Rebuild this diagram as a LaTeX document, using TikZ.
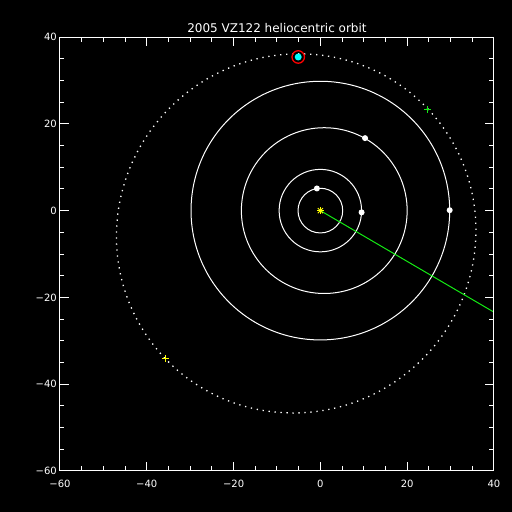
\documentclass[tikz,border=0pt]{standalone}
\usepackage{fontspec}
\setmainfont{DejaVu Sans}
\usepackage{tikz}
\usetikzlibrary{positioning}
\definecolor{OrbitCyan}{RGB}{0,255,255}
\definecolor{OrbitRed}{RGB}{255,0,0}
\definecolor{OrbitYellow}{RGB}{255,255,0}
\definecolor{OrbitGreen}{RGB}{20,235,20}

\begin{document}
\begin{tikzpicture}[
    x=4.34pt, y=4.34pt,
    every node/.style={font=\fontsize{10}{11}\selectfont, text=white, inner sep=0pt},
    frame/.style={draw=white, line width=1pt},
    orbit/.style={draw=white, line width=1pt},
    dotorbit/.style={draw=white, line width=1.3pt, dash pattern=on 1.3pt off 4.7pt},
    planet/.style={circle, fill=white, minimum size=6pt},
    target/.style={circle, fill=OrbitCyan, minimum size=7pt},
    ring/.style={circle, draw=OrbitRed, line width=1.3pt, minimum size=12.5pt},
    ray/.style={draw=OrbitGreen, line width=1pt},
    marker/.style={line width=1pt}
]

% background and margins
\fill[black] (-73.82,-69.45) rectangle (44.15,48.53);
\useasboundingbox (-73.82,-69.45) rectangle (44.15,48.53);

\coordinate (sun) at (0,0);
\coordinate (rim) at (40,-23.4);
\coordinate (peri) at (24.8,23.4);
\coordinate (aphe) at (-35.7,-34.1);

% planet orbits
\draw[orbit] (sun) circle [radius=5.15];
\draw[orbit] (sun) circle [radius=9.5];
\draw[orbit] (0.9,0) circle [radius=19.1];
\draw[orbit] (sun) circle [radius=29.8];

% orbit of the object
\draw[dotorbit, rotate around={43.3:(-5.57,-5.25)}] (-5.57,-5.25) ellipse [x radius=41.75, y radius=41.05];

\draw[ray] (sun) -- (rim);

% sun
\foreach \a in {0,45,90,135}
    \draw[OrbitYellow, marker] (sun) ++(\a:3.6pt) -- ++(\a+180:7.2pt);

% perihelion and aphelion
\draw[OrbitGreen, marker] (peri) ++(-3.5pt,0) -- ++(7pt,0) (peri) ++(0,-3.5pt) -- ++(0,7pt);
\draw[OrbitYellow, marker] (aphe) ++(-3.5pt,0) -- ++(7pt,0) (aphe) ++(0,-3.5pt) -- ++(0,7pt);

\node[planet] (jupiter) at (-0.8,5.1) {};
\node[planet] (saturn) at (9.5,-0.4) {};
\node[planet] (uranus) at (10.3,16.7) {};
\node[planet] (neptune) at (29.8,0.1) {};

\node[target] (vz) at (-5.1,35.4) {};
\node[ring] (vzring) at (vz) {};

% axes
\draw[frame] (-60,-60) rectangle (40,40);
\foreach \x in {-55,-50,...,35} {
    \draw[frame] (\x,-60) -- ++(0,4.5pt);
    \draw[frame] (\x,40) -- ++(0,-4.5pt);
}
\foreach \y in {-55,-50,...,35} {
    \draw[frame] (-60,\y) -- ++(4.5pt,0);
    \draw[frame] (40,\y) -- ++(-4.5pt,0);
}
\foreach \x in {-40,-20,0,20} {
    \draw[frame] (\x,-60) -- ++(0,9pt);
    \draw[frame] (\x,40) -- ++(0,-9pt);
}
\foreach \y in {-40,-20,0,20} {
    \draw[frame] (-60,\y) -- ++(9pt,0);
    \draw[frame] (40,\y) -- ++(-9pt,0);
}

\foreach \v/\t in {-60/−60,-40/−40,-20/−20,0/0,20/20,40/40} {
    \node[anchor=base] (xlab\v) at (\v,-63.7) {\t};
    \node[anchor=east] (ylab\v) at ([xshift=-3pt]-60,\v) {\t};
}

\node[anchor=base, font=\fontsize{12}{14}\selectfont] (title) at (-10,41.1) {2005 VZ122 heliocentric orbit};

\end{tikzpicture}
\end{document}
